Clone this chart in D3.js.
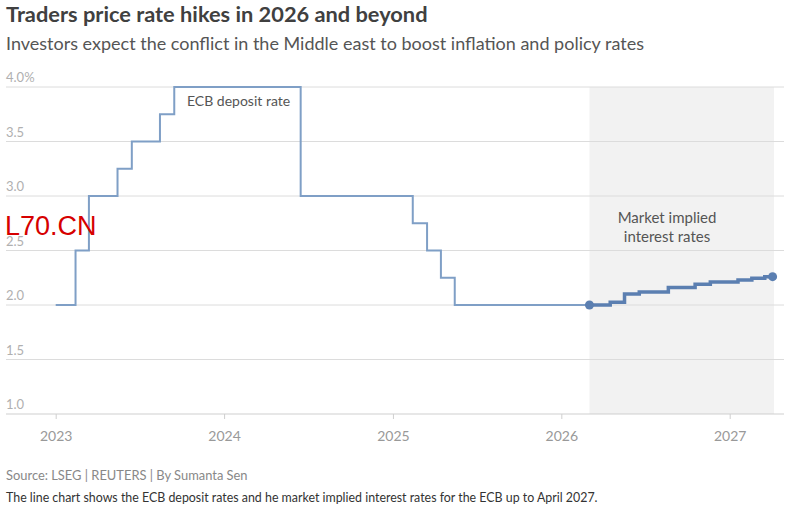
<!DOCTYPE html>
<html lang="en">
<head>
  <meta charset="utf-8" />
  <title>Traders price rate hikes in 2026 and beyond</title>
  <script src="https://cdn.jsdelivr.net/npm/d3@7/dist/d3.min.js"></script>
  <style>
    html,body{margin:0;padding:0;background:#fff;}
    svg{display:block;font-family:Lato,"Noto Sans",sans-serif;}
  </style>
</head>
<body>
<svg id="chart" width="791" height="510"></svg>
<script>
// ----- data -----
const ecbDates  = ["2023-01-01","2023-02-13","2023-03-14","2023-05-15","2023-06-15","2023-08-15","2023-09-15",
                   "2024-06-15","2025-02-13","2025-03-16","2025-04-15","2025-05-15","2026-03-03"];
const ecbValues = [2.0, 2.5, 3.0, 3.25, 3.5, 3.75, 4.0, 3.0, 2.75, 2.5, 2.25, 2.0, 2.0];

const mktDates  = ["2026-03-03","2026-04-17","2026-05-18","2026-06-19","2026-08-21","2026-10-18",
                   "2026-11-20","2027-01-19","2027-02-18","2027-03-18","2027-04-04"];
const mktValues = [2.0, 2.025, 2.10, 2.12, 2.16, 2.19, 2.21, 2.23, 2.245, 2.26, 2.26];

const yTicks  = [1.0, 1.5, 2.0, 2.5, 3.0, 3.5, 4.0];
const xYears  = [2023, 2024, 2025, 2026, 2027];
const shadeRange = ["2026-03-03", "2027-04-07"];

// ----- layout -----
const svg = d3.select('#chart');
const parse = d3.utcParse('%Y-%m-%d');
const ecb = ecbDates.map((d,i)=>({date:parse(d), v:ecbValues[i]}));
const mkt = mktDates.map((d,i)=>({date:parse(d), v:mktValues[i]}));

const x = d3.scaleUtc().domain([Date.UTC(2023,0,1), Date.UTC(2027,0,1)]).range([55.7, 729.7]);
const y = d3.scaleLinear().domain([1, 4]).range([414, 87]);
const gridX0 = 6, gridX1 = 784;

// titles
svg.append('text').attr('x',6).attr('y',22)
  .attr('font-size',21.8).attr('font-weight','bold').attr('fill','#404040')
  .text('Traders price rate hikes in 2026 and beyond');
svg.append('text').attr('x',6).attr('y',49.5)
  .attr('font-size',18).attr('fill','#555')
  .text('Investors expect the conflict in the Middle east to boost inflation and policy rates');

// shaded forecast band
svg.append('rect')
  .attr('x', x(parse(shadeRange[0]))).attr('y', y(4))
  .attr('width', x(parse(shadeRange[1])) - x(parse(shadeRange[0])))
  .attr('height', y(1) - y(4))
  .attr('fill','#f2f2f2');

// y grid + labels
const yg = svg.append('g');
yg.selectAll('line').data(yTicks).join('line')
  .attr('x1',gridX0).attr('x2',gridX1)
  .attr('y1',d=>y(d)).attr('y2',d=>y(d))
  .attr('stroke', d=>d===1?'#cfcfcf':'#dcdcdc').attr('stroke-width',1);
yg.selectAll('text').data(yTicks).join('text')
  .attr('x',6).attr('y',d=>y(d)-5)
  .attr('font-size',13).attr('fill','#b0b0b0')
  .text(d=>d===4 ? d.toFixed(1)+'%' : d.toFixed(1));

// x axis
const xAxis = d3.axisBottom(x)
  .tickValues(xYears.map(yr=>new Date(Date.UTC(yr,0,1))))
  .tickFormat(d3.utcFormat('%Y'))
  .tickSize(5).tickPadding(12);
const xg = svg.append('g').attr('transform',`translate(0,${y(1)})`).call(xAxis);
xg.select('.domain').remove();
xg.selectAll('.tick line').attr('stroke','#cfcfcf');
xg.selectAll('.tick text').attr('font-size',14).attr('fill','#999').attr('font-family','Lato,"Noto Sans",sans-serif');

// lines
const line = d3.line().x(d=>x(d.date)).y(d=>y(d.v)).curve(d3.curveStepAfter);
svg.append('path').datum(ecb).attr('d',line)
  .attr('fill','none').attr('stroke','#7f9fc6').attr('stroke-width',2);
svg.append('path').datum(mkt).attr('d',line)
  .attr('fill','none').attr('stroke','#5b7fb1').attr('stroke-width',3.5);

svg.selectAll('circle.end').data([mkt[0], mkt[mkt.length-1]]).join('circle')
  .attr('class','end')
  .attr('cx',d=>x(d.date)).attr('cy',d=>y(d.v)).attr('r',4.5)
  .attr('fill','#5b7fb1');

// annotations
svg.append('text').attr('x',187).attr('y',106)
  .attr('font-size',14).attr('fill','#555').text('ECB deposit rate');
const ann = svg.append('text').attr('text-anchor','middle')
  .attr('font-size',15).attr('fill','#555');
ann.append('tspan').attr('x',667).attr('y',223).text('Market implied');
ann.append('tspan').attr('x',667).attr('y',242).text('interest rates');

// watermark
svg.append('text').attr('x',5).attr('y',235)
  .attr('font-family','"Liberation Sans",Arial,sans-serif')
  .attr('font-size',27).attr('fill','#d60000').text('L70.CN');

// footer
svg.append('text').attr('x',6).attr('y',480)
  .attr('font-size',12.9).attr('fill','#888')
  .text('Source: LSEG | REUTERS | By Sumanta Sen');
svg.append('text').attr('x',6).attr('y',501.5)
  .attr('font-size',12.4).attr('fill','#333')
  .text('The line chart shows the ECB deposit rates and he market implied interest rates for the ECB up to April 2027.');
</script>
</body>
</html>
